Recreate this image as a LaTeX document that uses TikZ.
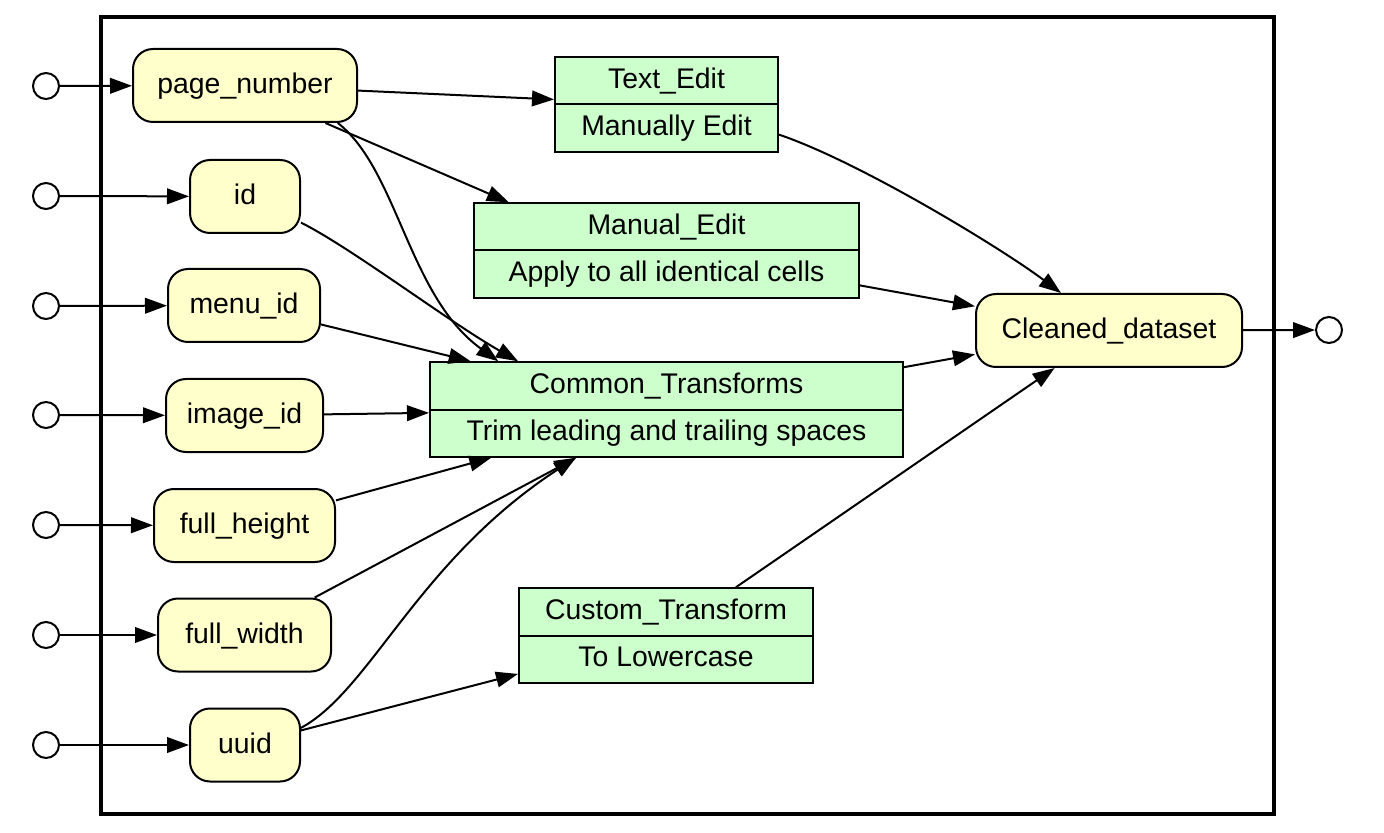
\documentclass[tikz,border=0pt]{standalone}
\usepackage{fontspec}
\setmainfont{Liberation Sans}
\usetikzlibrary{arrows.meta,shapes.multipart}
\definecolor{dataYellow}{HTML}{FFFFCC}
\definecolor{xformGreen}{HTML}{CCFFCC}
\newcommand\partstrut{\rule[-4.6pt]{0pt}{17pt}}

\begin{document}
\begin{tikzpicture}[x = 0.5pt, y = -0.5pt, line width = 1pt,
                      >={Triangle[length=11pt, width=7.8pt]},
                      every node/.style = {font = \fontsize{14.2}{17}\selectfont},
                      port/.style = {circle, draw, fill = white, minimum size = 13pt, inner sep = 0pt},
                      data/.style = {rectangle, draw, rounded corners = 10pt, fill = dataYellow, minimum height = 36.5pt,
                                     text height = 11pt, text depth = 3pt},
                      xform/.style = {rectangle split, rectangle split parts = 2, draw, fill = xformGreen, inner ysep = 2.8pt}]
    \useasboundingbox (0, 0) rectangle (1384, 833);
    \draw [line width = 2pt] (101, 17) rectangle (1274, 814);

    \node [port] (in1) at (46, 86){};
    \node [port] (in2) at (46, 196){};
    \node [port] (in3) at (46, 306){};
    \node [port] (in4) at (46, 415){};
    \node [port] (in5) at (46, 525){};
    \node [port] (in6) at (46, 635){};
    \node [port] (in7) at (46, 745){};
    \node [port] (out) at (1329, 330){};

    \node [data, minimum width = 112pt] (pagenum) at (245, 85.5){page\_number};
    \node [data, minimum width = 55pt] (id) at (245, 196.5){id};
    \node [data, minimum width = 76pt] (menuid) at (244, 305.5){menu\_id};
    \node [data, minimum width = 78.5pt] (imageid) at (244.5, 415.5){image\_id};
    \node [data, minimum width = 90.5pt] (fullheight) at (244.5, 525.5){full\_height};
    \node [data, minimum width = 86.5pt] (fullwidth) at (244.5, 635){full\_width};
    \node [data, minimum width = 55pt] (uuid) at (245, 745){uuid};
    \node [data, minimum width = 133pt] (cleaned) at (1109, 330.5){Cleaned\_dataset};

    \node [xform, minimum width = 111.5pt] (textedit) at (666.5, 104.5)
          {\partstrut Text\_Edit\nodepart{two}\partstrut Manually Edit};
    \node [xform, minimum width = 192.5pt] (manual) at (666.5, 250.5)
          {\partstrut Manual\_Edit\nodepart{two}\partstrut Apply to all identical cells};
    \node [xform, minimum width = 236.5pt] (common) at (666.5, 409.5)
          {\partstrut Common\_Transforms\nodepart{two}\partstrut Trim leading and trailing spaces};
    \node [xform, minimum width = 147pt] (custom) at (666, 635.5)
          {\partstrut Custom\_Transform\nodepart{two}\partstrut To Lowercase};

    \draw [->] (in1) -- (pagenum);
    \draw [->] (in2) -- (id);
    \draw [->] (in3) -- (menuid);
    \draw [->] (in4) -- (imageid);
    \draw [->] (in5) -- (fullheight);
    \draw [->] (in6) -- (fullwidth);
    \draw [->] (in7) -- (uuid);

    \draw [->] (pagenum) -- (textedit);
    \draw [->] (pagenum.-25) -- (manual.163);
    \draw [->] (pagenum.-22) .. controls +(60, 47) and +(-90, -65) .. (common.164.6);
    \draw [->] (id.-25) .. controls +(50, 25) and +(-70, -40) .. (common.162);
    \draw [->] (menuid) -- (common);
    \draw [->] (imageid) -- (common);
    \draw [->] (fullheight) -- (common);
    \draw [->] (fullwidth) -- (common);
    \draw [->] (uuid.17) .. controls +(70, -38) and +(-158, 103) .. (common.-152);
    \draw [->] (uuid) -- (custom);

    \draw [->] (textedit.-15) .. controls +(80, 27) and +(-60, -45) .. (cleaned.142);
    \draw [->] (manual) -- (cleaned);
    \draw [->] (common) -- (cleaned);
    \draw [->] (custom) -- (cleaned);
    \draw [->] (cleaned) -- (out);
    \end{tikzpicture}
\end{document}
